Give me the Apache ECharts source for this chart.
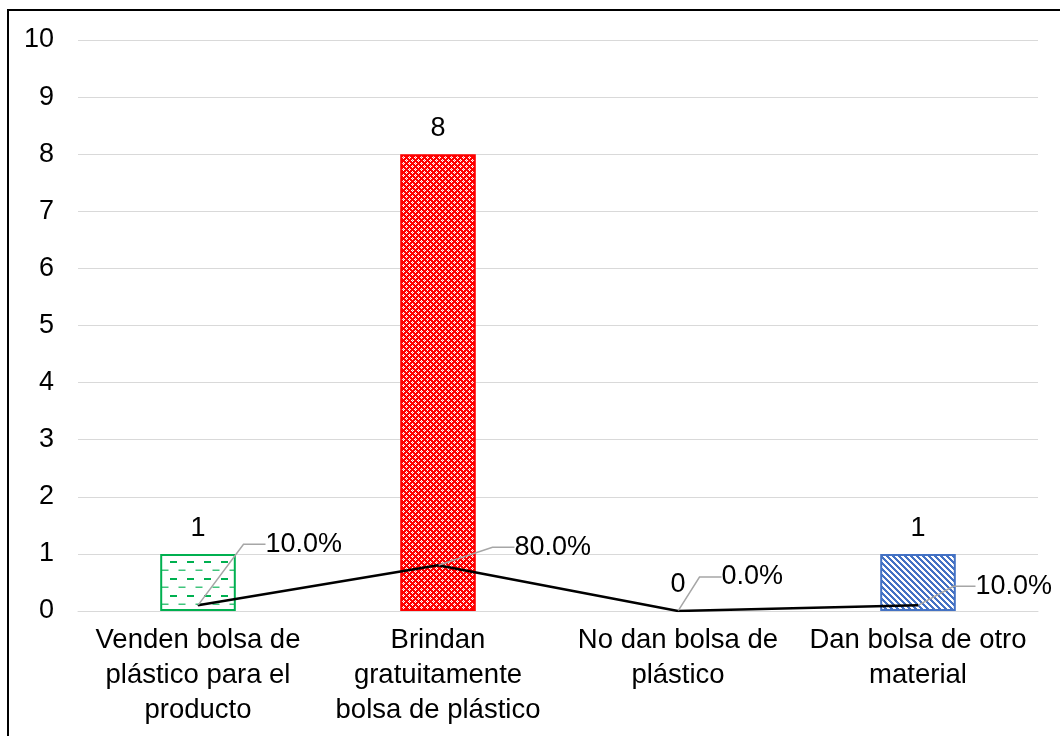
<!DOCTYPE html>
<html>
<head>
<meta charset="utf-8">
<script src="https://cdn.jsdelivr.net/npm/echarts@6/dist/echarts.min.js"></script>
<style>
  html, body { margin: 0; padding: 0; background: #fff; }
  #chart { width: 1060px; height: 736px; }
</style>
</head>
<body>
<div id="chart"></div>
<script>
// Survey answers: how shops hand out bags
const categories = [
  'Venden bolsa de\nplástico para el\nproducto',
  'Brindan\ngratuitamente\nbolsa de plástico',
  'No dan bolsa de\nplástico',
  'Dan bolsa de otro\nmaterial'
];
const counts = [1, 8, 0, 1];
const percents = [10.0, 80.0, 0.0, 10.0];
const yTicks = [0, 1, 2, 3, 4, 5, 6, 7, 8, 9, 10];

const FONT = '"Liberation Sans", Arial, sans-serif';

// Fill patterns for the bar styles
function makeTile(w, h, draw) {
  const c = document.createElement('canvas');
  c.width = w; c.height = h;
  const ctx = c.getContext('2d');
  ctx.fillStyle = '#ffffff';
  ctx.fillRect(0, 0, w, h);
  draw(ctx, w, h);
  return { image: c, repeat: 'repeat' };
}

// green dashed horizontal lines, staggered rows
const greenFill = makeTile(17, 17, (ctx) => {
  ctx.fillStyle = '#00B050';
  ctx.fillRect(0, 0, 7, 2);
  ctx.fillStyle = 'rgba(0,176,80,0.75)';
  ctx.fillRect(8.5, 8.5, 7, 1.5);
});

// red confetti grid
const redFill = makeTile(6, 6, (ctx) => {
  ctx.fillStyle = '#FF0000';
  ctx.fillRect(0, 0, 6, 6);
  ctx.fillStyle = '#ffffff';
  [[1, 0], [0, 1], [2, 1], [1, 2], [4, 3], [3, 4], [5, 4], [4, 5]].forEach(p => ctx.fillRect(p[0], p[1], 1, 1));
  ctx.fillStyle = 'rgba(255,255,255,0.5)';
  [[1, 1], [4, 4]].forEach(p => ctx.fillRect(p[0], p[1], 1, 1));
});

// blue wide downward diagonal stripes
const blueFill = makeTile(6, 6, (ctx, w, h) => {
  ctx.fillStyle = '#4472C4';
  for (let y = 0; y < h; y++) {
    for (let x = 0; x < w; x++) {
      if (((x - y) % 6 + 6) % 6 < 3) ctx.fillRect(x, y, 1, 1);
    }
  }
});

// one fill and outline per category
const fills = [greenFill, redFill, 'transparent', blueFill];
const borders = ['#00B050', '#FF0000', 'transparent', '#4472C4'];

// offsets of the percentage callouts relative to their points
const calloutOffsets = [
  { dx: 62, dy: -61 },
  { dx: 71, dy: -18 },
  { dx: 38, dy: -34 },
  { dx: 52, dy: -19 }
];

const chart = echarts.init(document.getElementById('chart'), null, { renderer: 'canvas' });

chart.setOption({
  animation: false,
  backgroundColor: '#ffffff',
  graphic: [{
    type: 'rect',
    shape: { x: 8, y: 10, width: 1200, height: 900 },
    style: { fill: 'none', stroke: '#000000', lineWidth: 2 },
    silent: true,
    z: 100
  }],
  grid: { left: 78, right: 22, top: 40, bottom: 125, containLabel: false },
  xAxis: {
    type: 'category',
    data: categories,
    axisTick: { show: false },
    axisLine: { show: true, lineStyle: { color: '#D9D9D9', width: 1 } },
    axisLabel: {
      interval: 0,
      margin: 12,
      color: '#000000',
      fontFamily: FONT,
      fontSize: 27.5,
      lineHeight: 35,
      align: 'center'
    }
  },
  yAxis: {
    type: 'value',
    min: yTicks[0],
    max: yTicks[yTicks.length - 1],
    interval: 1,
    axisLine: { show: false },
    axisTick: { show: false },
    splitLine: { lineStyle: { color: '#D9D9D9', width: 1 } },
    axisLabel: {
      margin: 24,
      color: '#000000',
      fontFamily: FONT,
      fontSize: 27
    }
  },
  series: [
    {
      name: 'Cantidad',
      type: 'bar',
      barWidth: '31.5%',
      data: counts.map((v, i) => ({
        value: v,
        itemStyle: {
          color: fills[i],
          borderColor: borders[i],
          borderWidth: 2
        }
      })),
      label: {
        show: true,
        position: 'top',
        distance: 12,
        color: '#000000',
        fontFamily: FONT,
        fontSize: 27
      },
      z: 2
    },
    {
      name: 'Porcentaje',
      type: 'line',
      data: percents.map(p => p / 100),
      symbol: 'circle',
      symbolSize: 1,
      showSymbol: true,
      lineStyle: { color: '#000000', width: 2.5 },
      itemStyle: { color: '#000000' },
      label: {
        show: true,
        position: 'right',
        distance: 5,
        color: '#000000',
        fontFamily: FONT,
        fontSize: 27,
        formatter: (p) => percents[p.dataIndex].toFixed(1) + '%'
      },
      labelLine: {
        show: true,
        length2: 22,
        lineStyle: { color: '#A6A6A6', width: 1.5 }
      },
      labelLayout: (params) => calloutOffsets[params.dataIndex],
      z: 5
    }
  ]
});
</script>
</body>
</html>
